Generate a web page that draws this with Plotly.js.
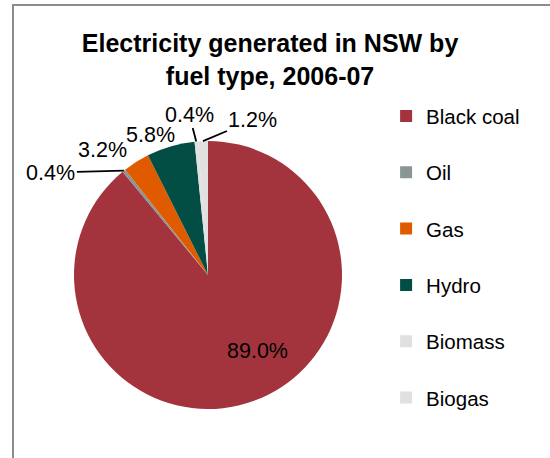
<!DOCTYPE html>
<html>
<head>
<meta charset="utf-8">
<script src="https://cdn.plot.ly/plotly-3.0.1.min.js"></script>
<style>
  html, body { margin: 0; padding: 0; background: #ffffff; }
  #wrap { position: relative; width: 550px; height: 458px; overflow: hidden; }
  #chart { position: absolute; left: 0; top: 0; width: 550px; height: 458px; }
  #frame { position: absolute; left: 12px; top: 4px; width: 560px; height: 470px;
           border-left: 2px solid #8c8c8c; border-top: 2px solid #8c8c8c; pointer-events: none; }
</style>
</head>
<body>
<div id="wrap">
  <div id="chart"></div>
  <div id="frame"></div>
</div>
<script>
const categories = ['Black coal', 'Oil', 'Gas', 'Hydro', 'Biomass', 'Biogas'];
const shares = [89.0, 0.4, 3.2, 5.8, 0.4, 1.2];
const sliceColors = ['#A3343D', '#8A9695', '#E05A00', '#024E44', '#E0E0E0', '#E0E0E0'];

// label placement styling (pixel offsets of each label from its slice's rim point)
const labelOffsets = [[49, 76, 'in'], [-73, 2, 'arrow'], [-34, -12, 'plain'], [-20, -11, 'plain'], [-7, -27, 'arrow'], [50, -21, 'arrow']];

const W = 550, H = 458;
const pieCx = 208, pieCy = 275, pieR = 134;
const FONT = 'Liberation Sans, Arial, sans-serif';

const domain = {
  x: [(pieCx - pieR) / W, (pieCx + pieR) / W],
  y: [1 - (pieCy + pieR) / H, 1 - (pieCy - pieR) / H]
};

const trace = {
  type: 'pie',
  labels: categories.map(c => c + '<br> '),
  values: shares,
  sort: false,
  direction: 'clockwise',
  rotation: 0,
  marker: { colors: sliceColors, line: { color: '#ffffff', width: 0 } },
  textinfo: 'none',
  textposition: 'none',
  domain: domain,
  automargin: false,
  hoverinfo: 'label+percent'
};

// label annotations positioned from the data (slice mid-angles)
const total = shares.reduce((a, b) => a + b, 0);
const annotations = [];
let cum = 0;
shares.forEach((v, i) => {
  const mid = (cum + v / 2) / total * 2 * Math.PI;
  cum += v;
  const [ox, oy, mode] = labelOffsets[i];
  const txt = (v / total * 100).toFixed(1) + '%';
  const font = { family: FONT, size: 21.5, color: '#000000' };
  if (mode === 'in') {
    annotations.push({ x: (pieCx + ox) / W, y: 1 - (pieCy + oy) / H, xref: 'paper', yref: 'paper', text: txt,
      showarrow: false, font: font, xanchor: 'center', yanchor: 'middle' });
  } else {
    const px = pieCx + pieR * Math.sin(mid);
    const py = pieCy - pieR * Math.cos(mid);
    if (mode === 'arrow') {
      annotations.push({ x: px / W, y: 1 - py / H, xref: 'paper', yref: 'paper', text: txt,
        showarrow: true, arrowhead: 0, arrowwidth: 1.8, arrowcolor: '#000000',
        ax: ox, ay: oy, font: font, standoff: 0, startstandoff: 0 });
    } else {
      annotations.push({ x: px / W, y: 1 - py / H, xref: 'paper', yref: 'paper', text: txt,
        showarrow: false, xshift: ox, yshift: -oy, font: font, xanchor: 'center', yanchor: 'middle' });
    }
  }
});

const layout = {
  width: W,
  height: H,
  margin: { l: 0, r: 0, t: 0, b: 0 },
  paper_bgcolor: '#ffffff',
  title: {
    text: '<b>Electricity generated in NSW by<br>fuel type, 2006-07</b>',
    font: { family: FONT, size: 25, color: '#000000' },
    x: 0.491, xref: 'container', xanchor: 'center',
    y: 0.886, yref: 'container', yanchor: 'top'
  },
  showlegend: true,
  legend: {
    x: 0.702, xanchor: 'left',
    y: 0.790, yanchor: 'top',
    valign: 'top',
    font: { family: FONT, size: 20.5, color: '#000000' },
    itemwidth: 30,
    tracegroupgap: 0,
    bgcolor: 'rgba(0,0,0,0)'
  },
  annotations: annotations
};

Plotly.newPlot('chart', [trace], layout, { displayModeBar: false, staticPlot: true });
</script>
</body>
</html>
